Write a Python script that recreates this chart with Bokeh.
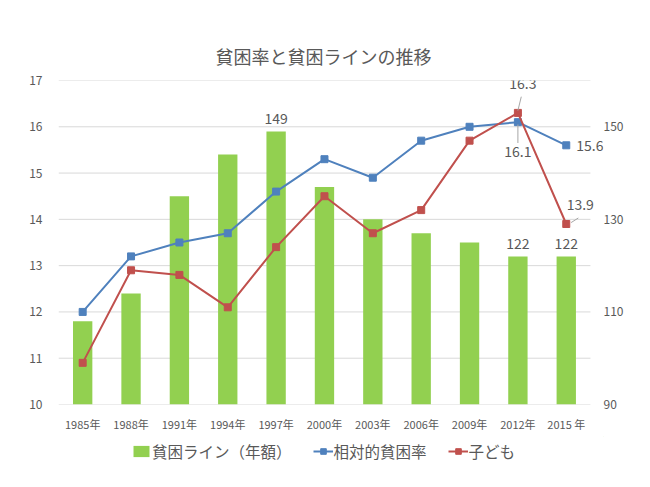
from bokeh.plotting import figure
from bokeh.layouts import column
from bokeh.models import (Range1d, LinearAxis, FixedTicker, Legend,
                          LegendItem, ColumnDataSource)
from bokeh.core.properties import value
from bokeh.embed import file_html
from bokeh.resources import INLINE

# ---- data ----
years = ["1985年", "1988年", "1991年", "1994年", "1997年", "2000年",
         "2003年", "2006年", "2009年", "2012年", "2015 年"]
poverty_line = [108, 114, 135, 144, 149, 137, 130, 127, 125, 122, 122]   # 万円 (right axis)
relative_rate = [12.0, 13.2, 13.5, 13.7, 14.6, 15.3, 14.9, 15.7, 16.0, 16.1, 15.6]
child_rate = [10.9, 12.9, 12.8, 12.1, 13.4, 14.5, 13.7, 14.2, 15.7, 16.3, 13.9]
left_ticks = [10, 11, 12, 13, 14, 15, 16, 17]
right_ticks = [90, 110, 130, 150]
bar_label_idx = [4, 9, 10]

FONT = "Noto Sans CJK JP"
TXT = "#595959"
GREEN = "#92D050"
BLUE = "#4F81BD"
RED = "#C0504D"
GRID = "#D9D9D9"
LEAD = "#A6A6A6"

xi = list(range(len(years)))          # category positions
first, last = xi[0] - 0.5, xi[-1] + 0.5

p = figure(x_range=Range1d(first, last + 0.27), y_range=Range1d(10, 17),
           width=650, height=436, output_backend="svg", toolbar_location=None,
           min_border_left=58, min_border_right=47, min_border_top=80,
           min_border_bottom=32)
p.extra_y_ranges = {"right": Range1d(90, 160)}
p.outline_line_color = None
p.background_fill_color = "white"
p.xgrid.visible = False
p.ygrid.visible = False

p.title.text = "貧困率と貧困ラインの推移"
p.title.align = "left"
p.title.offset = 157
p.title.text_font = FONT
p.title.text_font_size = "18px"
p.title.text_font_style = "normal"
p.title.text_color = TXT
p.title.standoff = 24

# axes
p.xaxis.ticker = FixedTicker(ticks=xi)
p.xaxis.major_label_overrides = {i: y for i, y in zip(xi, years)}
p.xaxis.axis_line_color = None
p.xaxis.major_tick_line_color = None
p.xaxis.minor_tick_line_color = None
p.xaxis.major_label_text_font = FONT
p.xaxis.major_label_text_font_size = "11px"
p.xaxis.major_label_text_color = TXT
p.xaxis.major_label_standoff = 5

p.yaxis.ticker = FixedTicker(ticks=left_ticks)
p.yaxis.axis_line_color = None
p.yaxis.major_tick_line_color = None
p.yaxis.minor_tick_line_color = None
p.yaxis.major_label_text_font = FONT
p.yaxis.major_label_text_font_size = "12px"
p.yaxis.major_label_text_color = TXT
p.yaxis.major_label_standoff = 10

raxis = LinearAxis(y_range_name="right", ticker=FixedTicker(ticks=right_ticks))
raxis.axis_line_color = None
raxis.major_tick_line_color = None
raxis.minor_tick_line_color = None
raxis.major_tick_out = 0
raxis.major_tick_in = 0
raxis.major_label_text_font = FONT
raxis.major_label_text_font_size = "12px"
raxis.major_label_text_color = TXT
raxis.major_label_standoff = 0
p.add_layout(raxis, "right")

# horizontal gridlines spanning the category area only
p.segment(x0=[first] * len(left_ticks), x1=[last] * len(left_ticks),
          y0=left_ticks, y1=left_ticks, line_color=GRID, line_width=1,
          level="underlay")

src = ColumnDataSource(dict(x=xi, line=poverty_line, rel=relative_rate,
                            child=child_rate, base=[right_ticks[0]] * len(years)))

p.vbar(x="x", top="line", bottom="base", width=0.4, source=src,
       y_range_name="right", fill_color=GREEN, line_color=None)
p.line(x="x", y="rel", source=src, line_color=BLUE, line_width=2)
p.scatter(x="x", y="rel", source=src, marker="square", size=7,
          fill_color=BLUE, line_color=BLUE)
p.line(x="x", y="child", source=src, line_color=RED, line_width=2)
p.scatter(x="x", y="child", source=src, marker="square", size=7,
          fill_color=RED, line_color=RED)

# bar data labels
bsrc = ColumnDataSource(dict(x=[xi[i] for i in bar_label_idx],
                             y=[poverty_line[i] for i in bar_label_idx],
                             t=[str(poverty_line[i]) for i in bar_label_idx]))
p.text(x="x", y="y", text="t", source=bsrc, y_range_name="right",
       text_align="center", text_baseline="bottom", y_offset=-7,
       text_font=value(FONT), text_font_size="14px", text_color=TXT)

i12 = years.index("2012年")
i15 = len(years) - 1

# leader lines (from data points toward their labels)
p.segment(x0=[xi[i12], xi[i12], xi[i15] + 0.1],
          x1=[xi[i12] + 0.07, xi[i12], xi[i15] + 0.25],
          y0=[child_rate[i12] + 0.05, relative_rate[i12] - 0.05, child_rate[i15] + 0.03],
          y1=[child_rate[i12] + 0.35, relative_rate[i12] - 0.45, child_rate[i15] + 0.13],
          line_color=LEAD, line_width=1)

# line data labels
def label(x, y, t, align, xo, yo):
    p.text(x=[x], y=[y], text=[t], text_align=align, text_baseline="middle",
           x_offset=xo, y_offset=yo, text_font=value(FONT),
           text_font_size="14px", text_color=TXT)

label(xi[i12], child_rate[i12], f"{child_rate[i12]:.1f}", "center", 5, -29)
label(xi[i12], relative_rate[i12], f"{relative_rate[i12]:.1f}", "center", 0, 29)
label(xi[i15], relative_rate[i15], f"{relative_rate[i15]:.1f}", "left", 10, 0)
label(xi[i15], child_rate[i15], f"{child_rate[i15]:.1f}", "center", 14, -19)

# ---- legend strip (proxy renderers sit outside the visible range) ----
lf = figure(width=650, height=32, x_range=Range1d(0, 1), y_range=Range1d(0, 1),
            output_backend="svg", toolbar_location=None, min_border=0,
            x_axis_location=None, y_axis_location=None)
lf.grid.visible = False
lf.outline_line_color = None
e = ColumnDataSource(dict(x=[5], y=[5]))
lb = lf.vbar(x="x", top="y", bottom="y", width=0.1, source=e,
             fill_color=GREEN, line_color=None)
l1 = lf.line(x="x", y="y", source=e, line_color=BLUE, line_width=2)
m1 = lf.scatter(x="x", y="y", source=e, marker="square", size=7,
                fill_color=BLUE, line_color=BLUE)
l2 = lf.line(x="x", y="y", source=e, line_color=RED, line_width=2)
m2 = lf.scatter(x="x", y="y", source=e, marker="square", size=7,
                fill_color=RED, line_color=RED)

legend = Legend(items=[
    LegendItem(label="貧困ライン（年額）", renderers=[lb]),
    LegendItem(label="相対的貧困率", renderers=[l1, m1]),
    LegendItem(label="子ども", renderers=[l2, m2]),
], orientation="horizontal", location=(73, 6))
legend.border_line_color = None
legend.background_fill_alpha = 0
legend.label_text_font = FONT
legend.label_text_font_size = "15.5px"
legend.label_text_color = TXT
legend.glyph_width = 20
legend.glyph_height = 14
legend.spacing = 21
legend.label_standoff = 1
legend.padding = 0
legend.margin = 0
lf.add_layout(legend, "center")

layout = column(p, lf, spacing=0)
open("out.html", "w").write(file_html(layout, INLINE))
